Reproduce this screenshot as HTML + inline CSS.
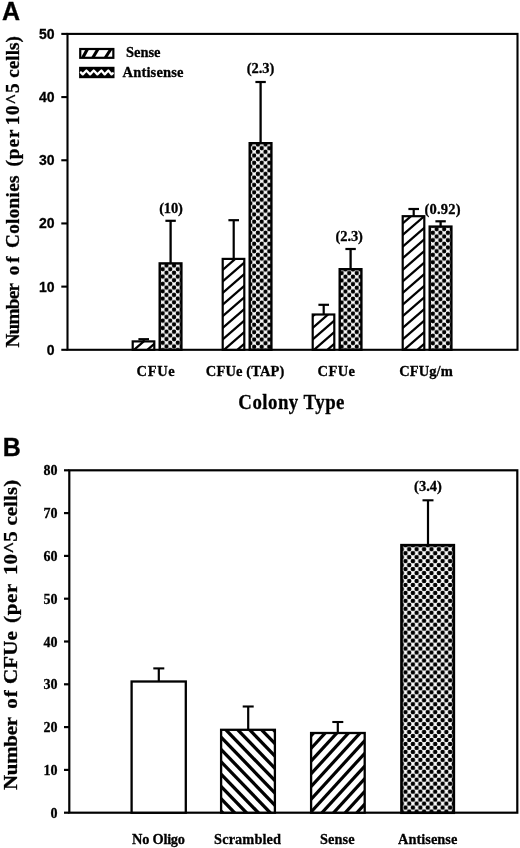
<!DOCTYPE html><html><head><meta charset="utf-8"><style>html,body{margin:0;padding:0;background:#fff}svg{display:block;will-change:transform;opacity:0.999}text{font-family:"Liberation Serif",serif;font-weight:bold;fill:#000;stroke:#000;stroke-width:0.3px}.sans{font-family:"Liberation Sans",sans-serif}</style></head><body>
<svg width="520" height="848" viewBox="0 0 520 848">
<defs>
<pattern id="da0" width="7.55" height="7.36" patternUnits="userSpaceOnUse" x="162.70" y="269.20"><rect width="7.55" height="7.36" fill="#fff"/><circle cx="0" cy="0" r="2.2" fill="#000"/><circle cx="7.55" cy="0" r="2.2" fill="#000"/><circle cx="0" cy="7.36" r="2.2" fill="#000"/><circle cx="7.55" cy="7.36" r="2.2" fill="#000"/><circle cx="3.775" cy="3.68" r="2.2" fill="#000"/></pattern>
<pattern id="da1" width="7.55" height="7.36" patternUnits="userSpaceOnUse" x="254.15" y="148.20"><rect width="7.55" height="7.36" fill="#fff"/><circle cx="0" cy="0" r="2.2" fill="#000"/><circle cx="7.55" cy="0" r="2.2" fill="#000"/><circle cx="0" cy="7.36" r="2.2" fill="#000"/><circle cx="7.55" cy="7.36" r="2.2" fill="#000"/><circle cx="3.775" cy="3.68" r="2.2" fill="#000"/></pattern>
<pattern id="da2" width="7.55" height="7.36" patternUnits="userSpaceOnUse" x="349.20" y="273.10"><rect width="7.55" height="7.36" fill="#fff"/><circle cx="0" cy="0" r="2.2" fill="#000"/><circle cx="7.55" cy="0" r="2.2" fill="#000"/><circle cx="0" cy="7.36" r="2.2" fill="#000"/><circle cx="7.55" cy="7.36" r="2.2" fill="#000"/><circle cx="3.775" cy="3.68" r="2.2" fill="#000"/></pattern>
<pattern id="da3" width="7.55" height="7.36" patternUnits="userSpaceOnUse" x="440.40" y="232.85"><rect width="7.55" height="7.36" fill="#fff"/><circle cx="0" cy="0" r="2.2" fill="#000"/><circle cx="7.55" cy="0" r="2.2" fill="#000"/><circle cx="0" cy="7.36" r="2.2" fill="#000"/><circle cx="7.55" cy="7.36" r="2.2" fill="#000"/><circle cx="3.775" cy="3.68" r="2.2" fill="#000"/></pattern>
<pattern id="db" width="7.43" height="7.95" patternUnits="userSpaceOnUse" x="409.20" y="549.20"><rect width="7.43" height="7.95" fill="#fff"/><circle cx="0" cy="0" r="2.3" fill="#000"/><circle cx="7.43" cy="0" r="2.3" fill="#000"/><circle cx="0" cy="7.95" r="2.3" fill="#000"/><circle cx="7.43" cy="7.95" r="2.3" fill="#000"/><circle cx="3.715" cy="3.975" r="2.3" fill="#000"/></pattern>
</defs>
<rect x="67.5" y="33.9" width="450.0" height="315.90000000000003" fill="none" stroke="#000" stroke-width="2.1"/>
<line x1="61.3" y1="349.80" x2="67.5" y2="349.80" stroke="#000" stroke-width="2.1"/>
<text class="sans" x="54.6" y="354.80" font-size="14" text-anchor="end">0</text>
<line x1="61.3" y1="286.62" x2="67.5" y2="286.62" stroke="#000" stroke-width="2.1"/>
<text class="sans" x="54.6" y="291.62" font-size="14" text-anchor="end">10</text>
<line x1="61.3" y1="223.44" x2="67.5" y2="223.44" stroke="#000" stroke-width="2.1"/>
<text class="sans" x="54.6" y="228.44" font-size="14" text-anchor="end">20</text>
<line x1="61.3" y1="160.26" x2="67.5" y2="160.26" stroke="#000" stroke-width="2.1"/>
<text class="sans" x="54.6" y="165.26" font-size="14" text-anchor="end">30</text>
<line x1="61.3" y1="97.08" x2="67.5" y2="97.08" stroke="#000" stroke-width="2.1"/>
<text class="sans" x="54.6" y="102.08" font-size="14" text-anchor="end">40</text>
<line x1="61.3" y1="33.90" x2="67.5" y2="33.90" stroke="#000" stroke-width="2.1"/>
<text class="sans" x="54.6" y="38.90" font-size="14" text-anchor="end">50</text>
<line x1="143.7" y1="339.2" x2="143.7" y2="341.4" stroke="#000" stroke-width="2.2"/>
<line x1="138.39999999999998" y1="339.2" x2="149.0" y2="339.2" stroke="#000" stroke-width="2.2"/>
<line x1="170.6" y1="220.8" x2="170.6" y2="263.4" stroke="#000" stroke-width="2.3"/>
<line x1="165.4" y1="220.8" x2="175.79999999999998" y2="220.8" stroke="#000" stroke-width="2.2"/>
<rect x="132.7" y="341.4" width="21.599999999999994" height="8.40" fill="#fff"/>
<clipPath id="ha0"><rect x="132.7" y="341.4" width="21.599999999999994" height="8.400000000000034"/></clipPath><g clip-path="url(#ha0)" stroke="#000" stroke-width="2.25"><line x1="130.7" y1="294.74" x2="156.29999999999998" y2="272.48"/><line x1="130.7" y1="306.34" x2="156.29999999999998" y2="284.08"/><line x1="130.7" y1="317.94" x2="156.29999999999998" y2="295.68"/><line x1="130.7" y1="329.54" x2="156.29999999999998" y2="307.28"/><line x1="130.7" y1="341.14" x2="156.29999999999998" y2="318.88"/><line x1="130.7" y1="352.74" x2="156.29999999999998" y2="330.48"/><line x1="130.7" y1="364.34" x2="156.29999999999998" y2="342.08"/><line x1="130.7" y1="375.94" x2="156.29999999999998" y2="353.68"/><line x1="130.7" y1="387.54" x2="156.29999999999998" y2="365.28"/></g>
<rect x="132.7" y="341.4" width="21.599999999999994" height="8.40" fill="none" stroke="#000" stroke-width="2.2"/>
<rect x="159.7" y="263.4" width="21.69999999999999" height="86.40" fill="url(#da0)" stroke="#000" stroke-width="2.4"/>
<line x1="233.7" y1="220.2" x2="233.7" y2="258.9" stroke="#000" stroke-width="2.2"/>
<line x1="228.39999999999998" y1="220.2" x2="239.0" y2="220.2" stroke="#000" stroke-width="2.2"/>
<line x1="260.6" y1="82.0" x2="260.6" y2="143.2" stroke="#000" stroke-width="2.3"/>
<line x1="255.40000000000003" y1="82.0" x2="265.8" y2="82.0" stroke="#000" stroke-width="2.2"/>
<rect x="222.7" y="258.9" width="21.599999999999994" height="90.90" fill="#fff"/>
<clipPath id="ha1"><rect x="222.7" y="258.9" width="21.599999999999994" height="90.90000000000003"/></clipPath><g clip-path="url(#ha1)" stroke="#000" stroke-width="2.25"><line x1="220.7" y1="213.54" x2="246.29999999999998" y2="191.28"/><line x1="220.7" y1="225.14" x2="246.29999999999998" y2="202.88"/><line x1="220.7" y1="236.74" x2="246.29999999999998" y2="214.48"/><line x1="220.7" y1="248.34" x2="246.29999999999998" y2="226.08"/><line x1="220.7" y1="259.94" x2="246.29999999999998" y2="237.68"/><line x1="220.7" y1="271.54" x2="246.29999999999998" y2="249.28"/><line x1="220.7" y1="283.14" x2="246.29999999999998" y2="260.88"/><line x1="220.7" y1="294.74" x2="246.29999999999998" y2="272.48"/><line x1="220.7" y1="306.34" x2="246.29999999999998" y2="284.08"/><line x1="220.7" y1="317.94" x2="246.29999999999998" y2="295.68"/><line x1="220.7" y1="329.54" x2="246.29999999999998" y2="307.28"/><line x1="220.7" y1="341.14" x2="246.29999999999998" y2="318.88"/><line x1="220.7" y1="352.74" x2="246.29999999999998" y2="330.48"/><line x1="220.7" y1="364.34" x2="246.29999999999998" y2="342.08"/><line x1="220.7" y1="375.94" x2="246.29999999999998" y2="353.68"/><line x1="220.7" y1="387.54" x2="246.29999999999998" y2="365.28"/></g>
<rect x="222.7" y="258.9" width="21.599999999999994" height="90.90" fill="none" stroke="#000" stroke-width="2.2"/>
<rect x="249.7" y="143.2" width="21.69999999999999" height="206.60" fill="url(#da1)" stroke="#000" stroke-width="2.4"/>
<line x1="323.7" y1="304.8" x2="323.7" y2="314.5" stroke="#000" stroke-width="2.2"/>
<line x1="318.4" y1="304.8" x2="329.0" y2="304.8" stroke="#000" stroke-width="2.2"/>
<line x1="350.6" y1="249.0" x2="350.6" y2="269.2" stroke="#000" stroke-width="2.3"/>
<line x1="345.40000000000003" y1="249.0" x2="355.8" y2="249.0" stroke="#000" stroke-width="2.2"/>
<rect x="312.7" y="314.5" width="21.600000000000023" height="35.30" fill="#fff"/>
<clipPath id="ha2"><rect x="312.7" y="314.5" width="21.600000000000023" height="35.30000000000001"/></clipPath><g clip-path="url(#ha2)" stroke="#000" stroke-width="2.25"><line x1="310.7" y1="271.54" x2="336.3" y2="249.28"/><line x1="310.7" y1="283.14" x2="336.3" y2="260.88"/><line x1="310.7" y1="294.74" x2="336.3" y2="272.48"/><line x1="310.7" y1="306.34" x2="336.3" y2="284.08"/><line x1="310.7" y1="317.94" x2="336.3" y2="295.68"/><line x1="310.7" y1="329.54" x2="336.3" y2="307.28"/><line x1="310.7" y1="341.14" x2="336.3" y2="318.88"/><line x1="310.7" y1="352.74" x2="336.3" y2="330.48"/><line x1="310.7" y1="364.34" x2="336.3" y2="342.08"/><line x1="310.7" y1="375.94" x2="336.3" y2="353.68"/><line x1="310.7" y1="387.54" x2="336.3" y2="365.28"/></g>
<rect x="312.7" y="314.5" width="21.600000000000023" height="35.30" fill="none" stroke="#000" stroke-width="2.2"/>
<rect x="339.7" y="269.2" width="21.69999999999999" height="80.60" fill="url(#da2)" stroke="#000" stroke-width="2.4"/>
<line x1="413.7" y1="209.0" x2="413.7" y2="216.2" stroke="#000" stroke-width="2.2"/>
<line x1="408.4" y1="209.0" x2="419.0" y2="209.0" stroke="#000" stroke-width="2.2"/>
<line x1="440.6" y1="221.3" x2="440.6" y2="226.6" stroke="#000" stroke-width="2.3"/>
<line x1="435.40000000000003" y1="221.3" x2="445.8" y2="221.3" stroke="#000" stroke-width="2.2"/>
<rect x="402.7" y="216.2" width="21.600000000000023" height="133.60" fill="#fff"/>
<clipPath id="ha3"><rect x="402.7" y="216.2" width="21.600000000000023" height="133.60000000000002"/></clipPath><g clip-path="url(#ha3)" stroke="#000" stroke-width="2.25"><line x1="400.7" y1="167.14" x2="426.3" y2="144.88"/><line x1="400.7" y1="178.74" x2="426.3" y2="156.48"/><line x1="400.7" y1="190.34" x2="426.3" y2="168.08"/><line x1="400.7" y1="201.94" x2="426.3" y2="179.68"/><line x1="400.7" y1="213.54" x2="426.3" y2="191.28"/><line x1="400.7" y1="225.14" x2="426.3" y2="202.88"/><line x1="400.7" y1="236.74" x2="426.3" y2="214.48"/><line x1="400.7" y1="248.34" x2="426.3" y2="226.08"/><line x1="400.7" y1="259.94" x2="426.3" y2="237.68"/><line x1="400.7" y1="271.54" x2="426.3" y2="249.28"/><line x1="400.7" y1="283.14" x2="426.3" y2="260.88"/><line x1="400.7" y1="294.74" x2="426.3" y2="272.48"/><line x1="400.7" y1="306.34" x2="426.3" y2="284.08"/><line x1="400.7" y1="317.94" x2="426.3" y2="295.68"/><line x1="400.7" y1="329.54" x2="426.3" y2="307.28"/><line x1="400.7" y1="341.14" x2="426.3" y2="318.88"/><line x1="400.7" y1="352.74" x2="426.3" y2="330.48"/><line x1="400.7" y1="364.34" x2="426.3" y2="342.08"/><line x1="400.7" y1="375.94" x2="426.3" y2="353.68"/><line x1="400.7" y1="387.54" x2="426.3" y2="365.28"/></g>
<rect x="402.7" y="216.2" width="21.600000000000023" height="133.60" fill="none" stroke="#000" stroke-width="2.2"/>
<rect x="429.7" y="226.6" width="21.69999999999999" height="123.20" fill="url(#da3)" stroke="#000" stroke-width="2.4"/>
<text transform="translate(171,213.3) scale(1.0,1)" font-size="14.5" textLength="23.60" lengthAdjust="spacing" text-anchor="middle">(10)</text>
<text transform="translate(260.5,73.3) scale(1.0,1)" font-size="14.5" textLength="27.50" lengthAdjust="spacing" text-anchor="middle">(2.3)</text>
<text transform="translate(349.2,241.2) scale(1.0,1)" font-size="14.5" textLength="27.50" lengthAdjust="spacing" text-anchor="middle">(2.3)</text>
<text transform="translate(442.5,213.6) scale(1.0,1)" font-size="14.5" textLength="36.20" lengthAdjust="spacing" text-anchor="middle">(0.92)</text>
<text transform="translate(136.6,376.4) scale(1.0,1)" font-size="14.5" textLength="38.10" lengthAdjust="spacing">CFUe</text>
<text transform="translate(205.8,376.4) scale(1.0,1)" font-size="14.5" textLength="78.60" lengthAdjust="spacing">CFUe (TAP)</text>
<text transform="translate(317.5,376.4) scale(1.0,1)" font-size="14.5" textLength="37.50" lengthAdjust="spacing">CFUe</text>
<text transform="translate(399.3,376.4) scale(1.0,1)" font-size="14.5" textLength="53.50" lengthAdjust="spacing">CFUg/m</text>
<text transform="translate(238.3,408.8) scale(0.92,1)" font-size="20.5" textLength="115.43" lengthAdjust="spacing">Colony Type</text>
<text transform="translate(18.6,347.5) rotate(-90) scale(1.01,1)" font-size="19" textLength="63.86" lengthAdjust="spacing">Number</text>
<text transform="translate(18.6,275.2) rotate(-90) scale(1.01,1)" font-size="19" textLength="18.61" lengthAdjust="spacing">of</text>
<text transform="translate(18.6,248.0) rotate(-90) scale(1.01,1)" font-size="19" textLength="71.78" lengthAdjust="spacing">Colonies</text>
<text transform="translate(18.6,166.6) rotate(-90) scale(1.01,1)" font-size="19" textLength="36.73" lengthAdjust="spacing">(per</text>
<text transform="translate(18.6,125.2) rotate(-90) scale(1.01,1)" font-size="19" textLength="41.39" lengthAdjust="spacing">10^5</text>
<text transform="translate(18.6,77.80000000000001) rotate(-90) scale(1.01,1)" font-size="19" textLength="41.39" lengthAdjust="spacing">cells)</text>
<rect x="80.25" y="49.0" width="33.1" height="8.8" fill="#fff" stroke="#000" stroke-width="2.2"/>
<clipPath id="lg1"><rect x="81.3" y="50" width="31" height="6.9"/></clipPath><g clip-path="url(#lg1)" fill="#000">
<polygon points="86.23,48.0 89.83,48.0 84.07,58.5 80.47,58.5"/>
<polygon points="96.81,48.0 100.41,48.0 94.15,58.5 90.55,58.5"/>
<polygon points="109.80,48.0 113.40,48.0 106.62,58.5 103.02,58.5"/>
</g>
<rect x="80.3" y="68.0" width="33.0" height="9.0" fill="#000" stroke="#000" stroke-width="2.4"/>
<polyline fill="none" stroke="#fff" stroke-width="2.3" stroke-linejoin="round" stroke-linecap="round" points="80.9,72.4 82.75,74.4 86.4,70.5 90.1,74.4 93.7,70.5 97.4,74.4 101.4,70.5 104.7,74.4 108.3,70.5 111.6,74.4 112.8,73.2"/>
<text transform="translate(126,57.4) scale(1.0,1)" font-size="14.5" textLength="34.50" lengthAdjust="spacing">Sense</text>
<text transform="translate(122.5,77.3) scale(1.0,1)" font-size="14.5" textLength="61.00" lengthAdjust="spacing">Antisense</text>
<text class="sans" x="1.9" y="20.4" font-size="25">A</text>
<rect x="69.3" y="470.3" width="447.99999999999994" height="342.40000000000003" fill="none" stroke="#000" stroke-width="2.2"/>
<line x1="64" y1="812.70" x2="69.3" y2="812.70" stroke="#000" stroke-width="2.2"/>
<text transform="translate(57.5,817.7) scale(0.95,1)" font-size="14.8" text-anchor="end">0</text>
<line x1="64" y1="769.90" x2="69.3" y2="769.90" stroke="#000" stroke-width="2.2"/>
<text transform="translate(57.5,774.9) scale(0.95,1)" font-size="14.8" text-anchor="end">10</text>
<line x1="64" y1="727.10" x2="69.3" y2="727.10" stroke="#000" stroke-width="2.2"/>
<text transform="translate(57.5,732.1) scale(0.95,1)" font-size="14.8" text-anchor="end">20</text>
<line x1="64" y1="684.30" x2="69.3" y2="684.30" stroke="#000" stroke-width="2.2"/>
<text transform="translate(57.5,689.3) scale(0.95,1)" font-size="14.8" text-anchor="end">30</text>
<line x1="64" y1="641.50" x2="69.3" y2="641.50" stroke="#000" stroke-width="2.2"/>
<text transform="translate(57.5,646.5) scale(0.95,1)" font-size="14.8" text-anchor="end">40</text>
<line x1="64" y1="598.70" x2="69.3" y2="598.70" stroke="#000" stroke-width="2.2"/>
<text transform="translate(57.5,603.7) scale(0.95,1)" font-size="14.8" text-anchor="end">50</text>
<line x1="64" y1="555.90" x2="69.3" y2="555.90" stroke="#000" stroke-width="2.2"/>
<text transform="translate(57.5,560.9) scale(0.95,1)" font-size="14.8" text-anchor="end">60</text>
<line x1="64" y1="513.10" x2="69.3" y2="513.10" stroke="#000" stroke-width="2.2"/>
<text transform="translate(57.5,518.1) scale(0.95,1)" font-size="14.8" text-anchor="end">70</text>
<line x1="64" y1="470.30" x2="69.3" y2="470.30" stroke="#000" stroke-width="2.2"/>
<text transform="translate(57.5,475.3) scale(0.95,1)" font-size="14.8" text-anchor="end">80</text>
<line x1="158.8" y1="668.4" x2="158.8" y2="681.5" stroke="#000" stroke-width="2.2"/>
<line x1="153.3" y1="668.4" x2="164.3" y2="668.4" stroke="#000" stroke-width="2.1"/>
<rect x="131.6" y="681.5" width="54.20000000000002" height="131.20" fill="#fff"/>
<rect x="131.6" y="681.5" width="54.20000000000002" height="131.20" fill="none" stroke="#000" stroke-width="2.3"/>
<line x1="248.2" y1="706.5" x2="248.2" y2="729.8" stroke="#000" stroke-width="2.2"/>
<line x1="242.7" y1="706.5" x2="253.7" y2="706.5" stroke="#000" stroke-width="2.1"/>
<rect x="221.1" y="729.8" width="53.79999999999998" height="82.90" fill="#fff"/>
<clipPath id="hb1"><rect x="221.1" y="729.8" width="53.79999999999998" height="82.90000000000009"/></clipPath><g clip-path="url(#hb1)" stroke="#000" stroke-width="3.3"><line x1="219.1" y1="636.57" x2="276.9" y2="696.42"/><line x1="219.1" y1="648.89" x2="276.9" y2="708.74"/><line x1="219.1" y1="661.21" x2="276.9" y2="721.06"/><line x1="219.1" y1="673.53" x2="276.9" y2="733.38"/><line x1="219.1" y1="685.85" x2="276.9" y2="745.70"/><line x1="219.1" y1="698.17" x2="276.9" y2="758.02"/><line x1="219.1" y1="710.49" x2="276.9" y2="770.34"/><line x1="219.1" y1="722.81" x2="276.9" y2="782.66"/><line x1="219.1" y1="735.13" x2="276.9" y2="794.98"/><line x1="219.1" y1="747.45" x2="276.9" y2="807.30"/><line x1="219.1" y1="759.77" x2="276.9" y2="819.62"/><line x1="219.1" y1="772.09" x2="276.9" y2="831.94"/><line x1="219.1" y1="784.41" x2="276.9" y2="844.26"/><line x1="219.1" y1="796.73" x2="276.9" y2="856.58"/><line x1="219.1" y1="809.05" x2="276.9" y2="868.90"/><line x1="219.1" y1="821.37" x2="276.9" y2="881.22"/><line x1="219.1" y1="833.69" x2="276.9" y2="893.54"/><line x1="219.1" y1="846.01" x2="276.9" y2="905.86"/><line x1="219.1" y1="858.33" x2="276.9" y2="918.18"/><line x1="219.1" y1="870.65" x2="276.9" y2="930.50"/><line x1="219.1" y1="882.97" x2="276.9" y2="942.82"/></g>
<rect x="221.1" y="729.8" width="53.79999999999998" height="82.90" fill="none" stroke="#000" stroke-width="2.3"/>
<line x1="337.8" y1="722.0" x2="337.8" y2="733.0" stroke="#000" stroke-width="2.2"/>
<line x1="332.3" y1="722.0" x2="343.3" y2="722.0" stroke="#000" stroke-width="2.1"/>
<rect x="311.1" y="733.0" width="53.599999999999966" height="79.70" fill="#fff"/>
<clipPath id="hb2"><rect x="311.1" y="733.0" width="53.599999999999966" height="79.70000000000005"/></clipPath><g clip-path="url(#hb2)" stroke="#000" stroke-width="3.2"><line x1="309.1" y1="648.98" x2="366.7" y2="586.12"/><line x1="309.1" y1="661.68" x2="366.7" y2="598.82"/><line x1="309.1" y1="674.38" x2="366.7" y2="611.52"/><line x1="309.1" y1="687.08" x2="366.7" y2="624.22"/><line x1="309.1" y1="699.78" x2="366.7" y2="636.92"/><line x1="309.1" y1="712.48" x2="366.7" y2="649.62"/><line x1="309.1" y1="725.18" x2="366.7" y2="662.32"/><line x1="309.1" y1="737.88" x2="366.7" y2="675.02"/><line x1="309.1" y1="750.58" x2="366.7" y2="687.72"/><line x1="309.1" y1="763.28" x2="366.7" y2="700.42"/><line x1="309.1" y1="775.98" x2="366.7" y2="713.12"/><line x1="309.1" y1="788.68" x2="366.7" y2="725.82"/><line x1="309.1" y1="801.38" x2="366.7" y2="738.52"/><line x1="309.1" y1="814.08" x2="366.7" y2="751.22"/><line x1="309.1" y1="826.78" x2="366.7" y2="763.92"/><line x1="309.1" y1="839.48" x2="366.7" y2="776.62"/><line x1="309.1" y1="852.18" x2="366.7" y2="789.32"/><line x1="309.1" y1="864.88" x2="366.7" y2="802.02"/><line x1="309.1" y1="877.58" x2="366.7" y2="814.72"/><line x1="309.1" y1="890.28" x2="366.7" y2="827.42"/></g>
<rect x="311.1" y="733.0" width="53.599999999999966" height="79.70" fill="none" stroke="#000" stroke-width="2.3"/>
<line x1="428.0" y1="500.3" x2="428.0" y2="545.2" stroke="#000" stroke-width="2.2"/>
<line x1="422.5" y1="500.3" x2="433.5" y2="500.3" stroke="#000" stroke-width="2.1"/>
<rect x="401.5" y="545.2" width="52.30000000000001" height="267.50" fill="url(#db)" stroke="#000" stroke-width="2.7"/>
<text transform="translate(428,491.2) scale(1.0,1)" font-size="14.5" textLength="27.80" lengthAdjust="spacing" text-anchor="middle">(3.4)</text>
<text transform="translate(132.1,843.7) scale(0.94,1)" font-size="15.3" textLength="56.28" lengthAdjust="spacing">No Oligo</text>
<text transform="translate(214.1,843.7) scale(0.94,1)" font-size="15.3" textLength="71.17" lengthAdjust="spacing">Scrambled</text>
<text transform="translate(320,843.7) scale(0.94,1)" font-size="15.3" textLength="36.91" lengthAdjust="spacing">Sense</text>
<text transform="translate(398,843.7) scale(0.94,1)" font-size="15.3" textLength="63.19" lengthAdjust="spacing">Antisense</text>
<text transform="translate(17.4,790.1) rotate(-90) scale(1.1,1)" font-size="19" textLength="66.55" lengthAdjust="spacing">Number</text>
<text transform="translate(17.4,708.6999999999999) rotate(-90) scale(1.1,1)" font-size="19" textLength="16.73" lengthAdjust="spacing">of</text>
<text transform="translate(17.4,684.0) rotate(-90) scale(1.1,1)" font-size="19" textLength="48.00" lengthAdjust="spacing">CFUe</text>
<text transform="translate(17.4,623.0) rotate(-90) scale(1.1,1)" font-size="19" textLength="35.64" lengthAdjust="spacing">(per</text>
<text transform="translate(17.4,574.9) rotate(-90) scale(1.1,1)" font-size="19" textLength="39.73" lengthAdjust="spacing">10^5</text>
<text transform="translate(17.4,525.6) rotate(-90) scale(1.1,1)" font-size="19" textLength="41.55" lengthAdjust="spacing">cells)</text>
<text class="sans" x="2.8" y="456.2" font-size="25">B</text>
</svg></body></html>
